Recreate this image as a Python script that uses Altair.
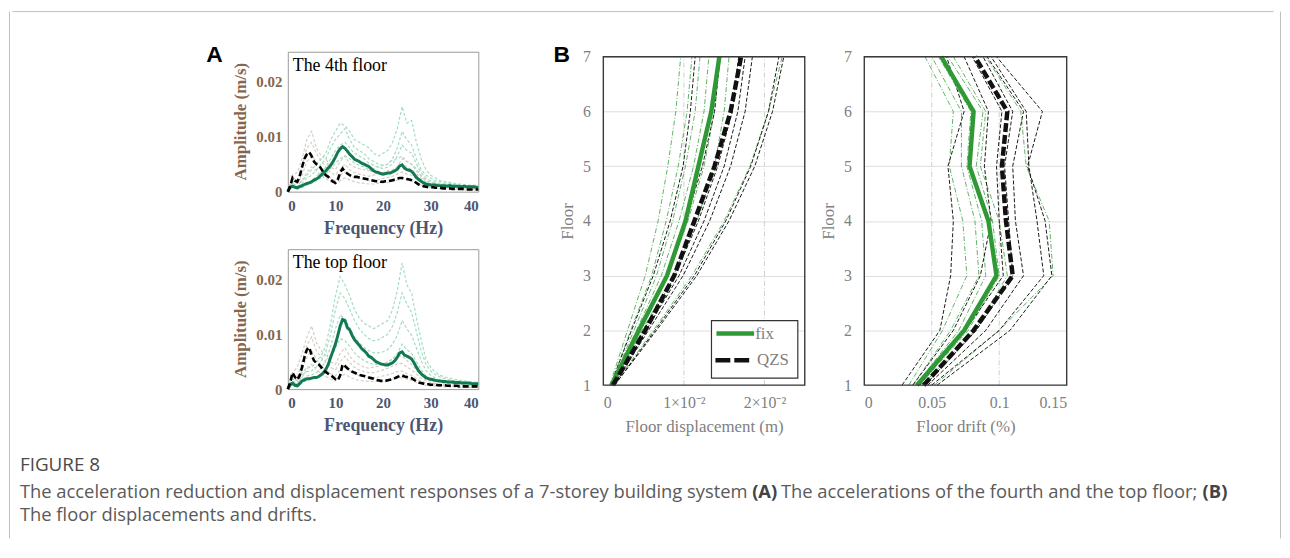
import altair as alt
import pandas as pd

# ============================ DATA ============================
# ---- Panel A: acceleration amplitude spectra ----
A_X_TICKS = [0, 10, 20, 30, 40]
A_Y_TICKS = [0, 0.01, 0.02]
MEAN_STEP = 0.5   # Hz between samples of the mean spectra
REC_STEP = 1.0    # Hz between samples of the single-record spectra

a4_fix_mean = [0.0000, 0.0008, 0.0010, 0.0008, 0.0007, 0.0009, 0.0011, 0.0013, 0.0015, 0.0016,
               0.0018, 0.0021, 0.0023, 0.0026, 0.0030, 0.0034, 0.0038, 0.0043, 0.0048, 0.0055,
               0.0063, 0.0072, 0.0078, 0.0082, 0.0079, 0.0074, 0.0068, 0.0064, 0.0059, 0.0057,
               0.0055, 0.0052, 0.0050, 0.0048, 0.0046, 0.0042, 0.0038, 0.0036, 0.0035, 0.0033,
               0.0032, 0.0033, 0.0034, 0.0034, 0.0036, 0.0038, 0.0041, 0.0047, 0.0049, 0.0043,
               0.0040, 0.0039, 0.0037, 0.0032, 0.0026, 0.0022, 0.0019, 0.0016, 0.0014, 0.0013,
               0.0012, 0.0012, 0.0012, 0.0011, 0.0011, 0.0011, 0.0011, 0.0010, 0.0011, 0.0010,
               0.0010, 0.0010, 0.0010, 0.0009, 0.0010, 0.0009, 0.0009, 0.0009, 0.0009, 0.0008,
               0.0008]
a4_qzs_mean = [0.0000, 0.0010, 0.0025, 0.0020, 0.0018, 0.0028, 0.0045, 0.0060, 0.0068, 0.0072,
               0.0065, 0.0055, 0.0050, 0.0048, 0.0042, 0.0035, 0.0030, 0.0027, 0.0022, 0.0018,
               0.0016, 0.0022, 0.0035, 0.0042, 0.0036, 0.0033, 0.0030, 0.0028, 0.0027, 0.0027,
               0.0026, 0.0025, 0.0024, 0.0023, 0.0022, 0.0021, 0.0020, 0.0019, 0.0019, 0.0018,
               0.0018, 0.0019, 0.0019, 0.0020, 0.0021, 0.0022, 0.0024, 0.0025, 0.0025, 0.0024,
               0.0023, 0.0022, 0.0021, 0.0019, 0.0016, 0.0013, 0.0011, 0.0010, 0.0009, 0.0008,
               0.0008, 0.0008, 0.0007, 0.0007, 0.0007, 0.0006, 0.0006, 0.0006, 0.0006, 0.0005,
               0.0005, 0.0005, 0.0005, 0.0005, 0.0005, 0.0004, 0.0004, 0.0004, 0.0004, 0.0004,
               0.0004]
a4_fix_records = [
    [0, .002, .0015, .002, .003, .004, .005, .006, .007, .0095,
     .011, .0125, .012, .011, .0095, .009, .0085, .008, .007, .0065,
     .007, .0075, .009, .0115, .0155, .0125, .013, .009, .006, .004,
     .003, .0025, .002, .0018, .0017, .0015, .0014, .0013, .0012, .0012, .0011],
    [0, .0015, .001, .0015, .0025, .003, .004, .005, .006, .008,
     .0095, .0105, .0115, .0095, .008, .0075, .007, .006, .0055, .005,
     .0048, .005, .006, .008, .011, .0095, .0085, .006, .004, .003,
     .0025, .002, .0018, .0016, .0015, .0013, .0012, .0011, .001, .001, .001],
    [0, .001, .0008, .001, .0015, .002, .0028, .0035, .0045, .006,
     .0075, .0085, .009, .008, .007, .0065, .006, .0052, .0048, .0045,
     .0042, .0045, .005, .0065, .0085, .0075, .007, .005, .0035, .0025,
     .002, .0017, .0015, .0014, .0013, .0012, .0011, .001, .0009, .0009, .0009],
    [0, .0008, .0006, .0008, .0012, .0015, .002, .0025, .0032, .0042,
     .0052, .006, .0065, .006, .0052, .0048, .0045, .004, .0035, .0032,
     .003, .0032, .0036, .0045, .006, .0055, .005, .0038, .0028, .002,
     .0016, .0014, .0012, .0011, .001, .001, .0009, .0009, .0008, .0008, .0008],
]
a4_qzs_records = [
    [0, .003, .0035, .006, .0095, .011, .008, .0065, .006, .0045,
     .004, .0055, .0065, .005, .0045, .0042, .004, .0038, .0042, .0045,
     .0048, .005, .0058, .006, .0065, .0055, .005, .0042, .003, .0022,
     .0018, .0015, .0013, .0012, .0011, .001, .0009, .0008, .0008, .0007, .0007],
    [0, .0025, .002, .0045, .008, .009, .007, .0055, .0045, .0035,
     .003, .004, .005, .004, .0035, .0032, .003, .0028, .003, .0032,
     .0035, .0038, .004, .0045, .005, .0045, .004, .0033, .0024, .0018,
     .0014, .0012, .001, .0009, .0008, .0008, .0007, .0006, .0006, .0005, .0005],
    [0, .0018, .0015, .003, .0055, .0065, .0055, .004, .0032, .0025,
     .002, .003, .0036, .003, .0026, .0024, .0022, .002, .0021, .0022,
     .0024, .0026, .0028, .0032, .0036, .0032, .003, .0024, .0018, .0013,
     .001, .0009, .0008, .0007, .0006, .0006, .0005, .0005, .0004, .0004, .0004],
    [0, .001, .001, .002, .0035, .0045, .0038, .003, .0024, .0018,
     .0014, .002, .0025, .0021, .0018, .0016, .0015, .0014, .0014, .0015,
     .0016, .0017, .0019, .0021, .0024, .0022, .002, .0016, .0012, .0009,
     .0007, .0006, .0005, .0005, .0004, .0004, .0004, .0003, .0003, .0003, .0003],
]

top_fix_mean = [0.0000, 0.0008, 0.0011, 0.0007, 0.0006, 0.0010, 0.0015, 0.0017, 0.0019, 0.0019,
                0.0020, 0.0021, 0.0021, 0.0023, 0.0026, 0.0030, 0.0036, 0.0045, 0.0058, 0.0070,
                0.0082, 0.0098, 0.0115, 0.0127, 0.0125, 0.0112, 0.0108, 0.0098, 0.0090, 0.0085,
                0.0080, 0.0074, 0.0070, 0.0066, 0.0060, 0.0058, 0.0054, 0.0050, 0.0048, 0.0046,
                0.0045, 0.0044, 0.0044, 0.0046, 0.0048, 0.0052, 0.0058, 0.0066, 0.0068, 0.0062,
                0.0060, 0.0058, 0.0055, 0.0048, 0.0040, 0.0033, 0.0028, 0.0024, 0.0021, 0.0019,
                0.0018, 0.0017, 0.0016, 0.0015, 0.0015, 0.0014, 0.0014, 0.0013, 0.0013, 0.0013,
                0.0012, 0.0012, 0.0012, 0.0011, 0.0011, 0.0011, 0.0011, 0.0010, 0.0010, 0.0010,
                0.0010]
top_qzs_mean = [0.0000, 0.0012, 0.0030, 0.0022, 0.0017, 0.0025, 0.0040, 0.0058, 0.0072, 0.0076,
                0.0062, 0.0052, 0.0048, 0.0045, 0.0040, 0.0034, 0.0031, 0.0028, 0.0025, 0.0022,
                0.0018, 0.0016, 0.0025, 0.0045, 0.0042, 0.0038, 0.0035, 0.0032, 0.0030, 0.0028,
                0.0026, 0.0025, 0.0024, 0.0022, 0.0021, 0.0020, 0.0019, 0.0017, 0.0016, 0.0015,
                0.0015, 0.0015, 0.0016, 0.0017, 0.0018, 0.0020, 0.0022, 0.0024, 0.0025, 0.0023,
                0.0022, 0.0021, 0.0020, 0.0017, 0.0014, 0.0012, 0.0011, 0.0010, 0.0009, 0.0009,
                0.0008, 0.0008, 0.0008, 0.0007, 0.0007, 0.0007, 0.0007, 0.0006, 0.0006, 0.0006,
                0.0006, 0.0006, 0.0005, 0.0005, 0.0005, 0.0005, 0.0005, 0.0005, 0.0005, 0.0005,
                0.0005]
top_fix_records = [
    [0, .002, .0015, .003, .004, .004, .005, .006, .008, .012,
     .017, .0205, .019, .017, .0145, .013, .012, .0115, .011, .0115,
     .012, .0125, .0145, .018, .023, .019, .0175, .013, .009, .0055,
     .004, .003, .0025, .0022, .002, .0018, .0016, .0015, .0014, .0013, .0012],
    [0, .0015, .001, .0025, .0032, .0033, .004, .005, .0068, .01,
     .0145, .0175, .0165, .0145, .0125, .011, .01, .0092, .0088, .009,
     .0095, .01, .0115, .014, .0175, .0155, .014, .0105, .007, .0045,
     .0033, .0026, .0022, .0019, .0017, .0015, .0014, .0013, .0012, .0011, .001],
    [0, .001, .0008, .0018, .0024, .0026, .003, .0038, .0052, .0078,
     .011, .0135, .0128, .0112, .0095, .0085, .0076, .007, .0066, .0066,
     .0068, .0072, .0082, .0098, .0125, .011, .0098, .0075, .0052, .0034,
     .0025, .002, .0017, .0015, .0014, .0012, .0011, .001, .001, .0009, .0009],
    [0, .0008, .0005, .0012, .0016, .0018, .0021, .0027, .0036, .0055,
     .0075, .0092, .0088, .0078, .0066, .0058, .0052, .0048, .0045, .0045,
     .0046, .0048, .0055, .0065, .0082, .0072, .0065, .005, .0035, .0024,
     .0018, .0015, .0013, .0012, .0011, .001, .0009, .0008, .0008, .0007, .0007],
]
top_qzs_records = [
    [0, .003, .004, .0065, .0095, .0115, .0085, .007, .006, .005,
     .0045, .0065, .0075, .006, .005, .0045, .004, .0038, .004, .0042,
     .0045, .005, .0055, .006, .006, .0052, .0045, .0035, .0025, .0018,
     .0015, .0013, .0012, .001, .001, .0009, .0008, .0008, .0007, .0007, .0006],
    [0, .0025, .0022, .005, .008, .0095, .007, .0058, .0048, .004,
     .0035, .005, .006, .0048, .004, .0035, .0032, .003, .003, .0032,
     .0035, .0038, .0042, .0046, .0047, .004, .0035, .0027, .002, .0015,
     .0012, .001, .0009, .0008, .0008, .0007, .0006, .0006, .0006, .0005, .0005],
    [0, .0018, .0015, .0035, .0058, .007, .0055, .0042, .0035, .0028,
     .0024, .0035, .0042, .0034, .0028, .0025, .0023, .0021, .0021, .0022,
     .0024, .0026, .0029, .0032, .0033, .0028, .0025, .0019, .0014, .0011,
     .0009, .0008, .0007, .0006, .0006, .0005, .0005, .0004, .0004, .0004, .0004],
    [0, .001, .001, .0022, .0036, .0045, .0036, .0028, .0023, .0018,
     .0015, .0022, .0027, .0022, .0018, .0016, .0015, .0014, .0014, .0014,
     .0015, .0016, .0018, .002, .0021, .0018, .0016, .0012, .0009, .0007,
     .0006, .0005, .0005, .0004, .0004, .0004, .0003, .0003, .0003, .0003, .0003],
]

# ---- Panel B: floor displacement and drift ----
FLOORS = [1, 2, 3, 4, 5, 6, 7]
DISP_TICKS = [0, 0.01, 0.02]
DISP_LABELS = ["0", "1×10⁻²", "2×10⁻²"]
DRIFT_TICKS = [0, 0.05, 0.1, 0.15]
DRIFT_LABELS = ["0", "0.05", "0.1", "0.15"]

disp_fix_mean = [0.0010, 0.0044, 0.0079, 0.0102, 0.0118, 0.0134, 0.0144]
disp_qzs_mean = [0.0012, 0.0052, 0.0088, 0.0113, 0.0138, 0.0158, 0.0171]
disp_fix_records = [
    [0.0008, 0.0030, 0.0052, 0.0068, 0.0080, 0.0090, 0.0096],
    [0.0009, 0.0034, 0.0060, 0.0078, 0.0093, 0.0104, 0.0110],
    [0.0010, 0.0038, 0.0066, 0.0086, 0.0102, 0.0114, 0.0120],
    [0.0010, 0.0041, 0.0072, 0.0094, 0.0112, 0.0125, 0.0131],
    [0.0011, 0.0045, 0.0080, 0.0105, 0.0125, 0.0138, 0.0145],
    [0.0011, 0.0048, 0.0087, 0.0116, 0.0138, 0.0150, 0.0156],
    [0.0013, 0.0062, 0.0110, 0.0150, 0.0182, 0.0205, 0.0222],
]
disp_qzs_records = [
    [0.0009, 0.0035, 0.0062, 0.0083, 0.0099, 0.0108, 0.0114],
    [0.0011, 0.0044, 0.0078, 0.0102, 0.0123, 0.0138, 0.0145],
    [0.0012, 0.0050, 0.0089, 0.0118, 0.0142, 0.0160, 0.0168],
    [0.0013, 0.0053, 0.0094, 0.0125, 0.0150, 0.0167, 0.0176],
    [0.0013, 0.0056, 0.0099, 0.0132, 0.0158, 0.0176, 0.0185],
    [0.0014, 0.0064, 0.0113, 0.0152, 0.0183, 0.0205, 0.0218],
    [0.0014, 0.0066, 0.0116, 0.0156, 0.0188, 0.0210, 0.0224],
]

drift_fix_mean = [0.039, 0.074, 0.098, 0.092, 0.078, 0.081, 0.057]
drift_qzs_mean = [0.044, 0.081, 0.110, 0.105, 0.102, 0.106, 0.082]
drift_fix_records = [
    [0.033, 0.058, 0.076, 0.073, 0.063, 0.066, 0.045],
    [0.036, 0.064, 0.085, 0.082, 0.072, 0.072, 0.050],
    [0.038, 0.070, 0.090, 0.087, 0.076, 0.079, 0.055],
    [0.041, 0.077, 0.100, 0.095, 0.083, 0.088, 0.062],
    [0.043, 0.082, 0.106, 0.100, 0.086, 0.090, 0.066],
    [0.052, 0.100, 0.140, 0.137, 0.120, 0.116, 0.090],
]
drift_qzs_records = [
    [0.028, 0.056, 0.064, 0.066, 0.062, 0.074, 0.061],
    [0.036, 0.066, 0.086, 0.094, 0.089, 0.092, 0.074],
    [0.041, 0.075, 0.103, 0.100, 0.098, 0.102, 0.080],
    [0.045, 0.083, 0.110, 0.107, 0.104, 0.110, 0.088],
    [0.047, 0.090, 0.118, 0.112, 0.110, 0.118, 0.091],
    [0.050, 0.100, 0.133, 0.128, 0.122, 0.120, 0.094],
    [0.054, 0.108, 0.139, 0.134, 0.121, 0.132, 0.098],
]

SERIES = ["fix", "QZS"]

CAPTION_HEAD = "FIGURE 8"
CAPTION_LINE1 = ["The acceleration reduction and displacement responses of a 7-storey building system",
                 "(A)", "The accelerations of the fourth and the top floor;", "(B)"]
CAPTION_LINE2 = "The floor displacements and drifts."

# ============================ STYLE ============================
SERIF = "Liberation Serif"
SANS = "Open Sans"
A_DKGREEN = "#127a50"
A_LTGREEN = "#a6dcc3"
A_GRAY = "#d6cec8"
B_GREEN = "#2f9a35"
A_YCOL = "#86654c"
A_XCOL = "#4b5673"
B_TEXT = "#808080"
FRAME = "#c0c0c0"

# every unit's origin is the top-left corner of its plot area
A_LEFT = 278          # from the outer frame line to the left edge of the panel A plots


def one(text):
    return pd.DataFrame({"t": [text]})


def box(left, top, w, h, right, bottom):
    """Invisible rectangle that fixes the layout bounds of a unit."""
    return alt.Chart(one("")).mark_rect(opacity=0).encode(
        x=alt.value(-left), x2=alt.value(w + right), y=alt.value(-top), y2=alt.value(h + bottom))


def letter(text, x, y):
    return alt.Chart(one(text)).mark_text(align="center", baseline="middle",
                                          font="Liberation Sans", fontWeight="bold",
                                          fontSize=23, color="black") \
        .encode(x=alt.value(x), y=alt.value(y), text="t:N")


def spectra_df(records, step):
    rows = []
    for r, vals in enumerate(records):
        for i, v in enumerate(vals):
            rows.append({"f": i * step, "amp": v, "rec": r})
    return pd.DataFrame(rows)


def panel_a(fix_mean, qzs_mean, fix_recs, qzs_recs, label, bounds, extra=()):
    W, H = 192, 141
    x = alt.X("f:Q", scale=alt.Scale(domain=[0, 40], nice=False),
              axis=alt.Axis(values=A_X_TICKS, title="Frequency (Hz)", domain=False, ticks=False,
                            tickSize=0, grid=False, labelFont=SERIF, labelFontSize=15,
                            labelFontWeight="bold", labelColor=A_XCOL, labelPadding=7,
                            titleFont=SERIF, titleFontSize=18, titleFontWeight="bold",
                            titleColor=A_XCOL, titleY=37, titleBaseline="middle"))
    y = alt.Y("amp:Q", scale=alt.Scale(domain=[0, 0.0255], nice=False),
              axis=alt.Axis(values=A_Y_TICKS, format="~g", title="Amplitude (m/s)", domain=False,
                            ticks=False, tickSize=0, grid=False, labelFont=SERIF, labelFontSize=15,
                            labelFontWeight="bold", labelColor=A_YCOL, labelPadding=6,
                            titleFont=SERIF, titleFontSize=17, titleFontWeight="bold",
                            titleColor=A_YCOL, titleX=-48, titleY=70, titleBaseline="middle",
                            titleAlign="center"))
    layers = [
        box(bounds[0], bounds[1], W, H, bounds[2], bounds[3]),
        alt.Chart(spectra_df(qzs_recs, REC_STEP)).mark_line(color=A_GRAY, strokeWidth=1.2,
                                                            strokeDash=[3, 2])
        .encode(x=x, y=y, detail="rec:N"),
        alt.Chart(spectra_df(fix_recs, REC_STEP)).mark_line(color=A_LTGREEN, strokeWidth=1.2,
                                                            strokeDash=[3, 2])
        .encode(x=x, y=y, detail="rec:N"),
        alt.Chart(spectra_df([fix_mean], MEAN_STEP)).mark_line(color=A_DKGREEN, strokeWidth=3)
        .encode(x=x, y=y),
        alt.Chart(spectra_df([qzs_mean], MEAN_STEP)).mark_line(color="black", strokeWidth=2.6,
                                                               strokeDash=[6, 3])
        .encode(x=x, y=y),
        alt.Chart(one(label)).mark_text(align="left", baseline="middle", font=SERIF,
                                        fontSize=18, color="black")
        .encode(x=alt.value(5), y=alt.value(14), text="t:N"),
    ] + list(extra)
    return alt.layer(*layers).properties(width=W, height=H,
                                         view=alt.ViewBackground(stroke="#9a9a9a", strokeWidth=1))


def floors_df(records):
    rows = []
    for r, vals in enumerate(records):
        for fl, v in zip(FLOORS, vals):
            rows.append({"v": v, "floor": fl, "rec": r})
    return pd.DataFrame(rows)


def label_expr(values, labels):
    expr = "''"
    for v, l in reversed(list(zip(values, labels))):
        expr = f"abs(datum.value - {v}) < 1e-9 ? '{l}' : ({expr})"
    return expr


B_TOP = 5      # panel B plot frame starts a little below panel A's top
B_H = 336      # unit height of panel B; the frame spans B_TOP..B_H


def panel_b(fix_mean, qzs_mean, fix_recs, qzs_recs, domain, ticks, labels, title, W, bounds,
            legend=False, extra=()):
    H = B_H
    x = alt.X("v:Q", scale=alt.Scale(domain=domain, nice=False),
              axis=alt.Axis(values=ticks, labelExpr=label_expr(ticks, labels), title=title,
                            domain=False, ticks=False, tickSize=0, grid=False, labelFont=SERIF,
                            labelFontSize=16, labelColor=B_TEXT, labelPadding=10,
                            titleFont=SERIF, titleFontSize=17, titleFontWeight="normal",
                            titleColor=B_TEXT, titleY=42, titleBaseline="middle"))
    y = alt.Y("floor:Q", scale=alt.Scale(domain=[1, 7], range=[H, B_TOP], nice=False),
              axis=alt.Axis(values=FLOORS, title="Floor", domain=False, ticks=False, tickSize=0,
                            grid=True, gridColor="#dedede", gridWidth=1, labelFont=SERIF,
                            labelFontSize=16, labelColor=B_TEXT, labelPadding=13,
                            titleFont=SERIF, titleFontSize=17, titleFontWeight="normal",
                            titleColor=B_TEXT, titleX=-36, titleY=(H + B_TOP) / 2,
                            titleBaseline="middle", titleAlign="center"))
    grid_vals = [t for t in ticks if domain[0] < t < domain[1]]
    vgrid = pd.DataFrame({"v": grid_vals, "floor": [1] * len(grid_vals),
                          "floor2": [7] * len(grid_vals)})
    frame = pd.DataFrame({"v": [domain[0]], "v2": [domain[1]], "floor": [1], "floor2": [7]})
    layers = [
        box(bounds[0], bounds[1], W, H, bounds[2], bounds[3]),
        alt.Chart(vgrid).mark_rule(color="#c4c4c4", strokeWidth=0.8, strokeDash=[5, 2, 1, 2])
        .encode(x=x, y=y, y2="floor2:Q"),
        alt.Chart(floors_df(fix_recs)).mark_line(color=B_GREEN, strokeWidth=0.9,
                                                 strokeDash=[5, 2, 1, 2], opacity=0.85)
        .encode(x=x, y=y, detail="rec:N", order="floor:Q"),
        alt.Chart(floors_df(qzs_recs)).mark_line(color="#1a1a1a", strokeWidth=1,
                                                 strokeDash=[4, 2])
        .encode(x=x, y=y, detail="rec:N", order="floor:Q"),
        alt.Chart(floors_df([fix_mean])).mark_line(color=B_GREEN, strokeWidth=4.5)
        .encode(x=x, y=y, order="floor:Q"),
        alt.Chart(floors_df([qzs_mean])).mark_line(color="#111111", strokeWidth=4.5,
                                                   strokeDash=[9, 3])
        .encode(x=x, y=y, order="floor:Q"),
        alt.Chart(frame).mark_rect(fillOpacity=0, stroke="#3a3a3a", strokeWidth=1.4)
        .encode(x=x, x2="v2:Q", y=y, y2="floor2:Q"),
    ]
    if legend:
        t = B_TOP
        layers += [
            alt.Chart(one("")).mark_rect(fill="white", stroke="#333333", strokeWidth=1.2)
            .encode(x=alt.value(109), x2=alt.value(196), y=alt.value(266 + t),
                    y2=alt.value(324 + t)),
            alt.Chart(one(SERIES[0])).mark_rule(color=B_GREEN, strokeWidth=4.5)
            .encode(x=alt.value(114), x2=alt.value(152), y=alt.value(279 + t)),
            alt.Chart(one(SERIES[1])).mark_rule(color="#111111", strokeWidth=4.5,
                                                strokeDash=[15, 4])
            .encode(x=alt.value(113), x2=alt.value(147), y=alt.value(306 + t)),
            alt.Chart(one(SERIES[0])).mark_text(align="left", baseline="middle", font=SERIF,
                                                fontSize=17, color=B_TEXT)
            .encode(x=alt.value(153), y=alt.value(279 + t), text="t:N"),
            alt.Chart(one(SERIES[1])).mark_text(align="left", baseline="middle", font=SERIF,
                                                fontSize=17, color=B_TEXT)
            .encode(x=alt.value(155), y=alt.value(306 + t), text="t:N"),
        ]
    layers += list(extra)
    return alt.layer(*layers).properties(width=W, height=H)


# ============================ LAYOUT ============================
# bounds = (left, top, right, bottom) margins around each unit
TOTAL_W = 1274        # whole chart width (fits the page body, so nothing is rescaled)
ROW_H = 393           # from the top of panel A to the caption
a4 = panel_a(a4_fix_mean, a4_qzs_mean, a4_fix_records, a4_qzs_records, "The 4th floor",
             (A_LEFT, 38, 61, 49), extra=[letter("A", -74, 3)])
atop = panel_a(top_fix_mean, top_qzs_mean, top_fix_records, top_qzs_records, "The top floor",
               (A_LEFT, 7, 61, ROW_H - 141 - 49 - 7 - 141))
col_a = alt.vconcat(a4, atop, spacing=0)

DRIFT_RIGHT = TOTAL_W - 1061
b_disp = panel_b(disp_fix_mean, disp_qzs_mean, disp_fix_records, disp_qzs_records,
                 [0, 0.025], DISP_TICKS, DISP_LABELS, "Floor displacement (m)", 203,
                 (63, 38, 6, ROW_H - B_H), legend=True, extra=[letter("B", -42, 3)])
b_drift = panel_b(drift_fix_mean, drift_qzs_mean, drift_fix_records, drift_qzs_records,
                  [0, 0.15], DRIFT_TICKS, DRIFT_LABELS, "Floor drift (%)", 204,
                  (52, 38, DRIFT_RIGHT, ROW_H - B_H))
row = alt.hconcat(col_a, b_disp, b_drift, spacing=0)

CAP_W = 577 + 204 + DRIFT_RIGHT   # from the plot origin of panel A to the right frame line
CAP_SIZE = 18.5


def cap_text(text, x, y, size=CAP_SIZE, weight="normal", color="#5a5a5a"):
    return alt.Chart(one(text)).mark_text(align="left", baseline="middle", font=SANS,
                                          fontSize=size, fontWeight=weight, color=color) \
        .encode(x=alt.value(x - A_LEFT - 9), y=alt.value(y), text="t:N")


caption = alt.layer(
    box(A_LEFT, 0, CAP_W, 92, 0, 0),
    cap_text(CAPTION_HEAD, 17, 20, size=19, color="#4a4a4a"),
    cap_text(CAPTION_LINE1[0], 17, 47),
    cap_text(CAPTION_LINE1[1], 755, 47, weight="bold", color="#444444"),
    cap_text(CAPTION_LINE1[2], 784, 47),
    cap_text(CAPTION_LINE1[3], 1209, 47, weight="bold", color="#444444"),
    cap_text(CAPTION_LINE2, 17, 70),
).properties(width=CAP_W, height=92)

hline = alt.layer(
    box(A_LEFT, 0, CAP_W, 1, 0, 0),
    alt.Chart(one("")).mark_rule(color=FRAME, strokeWidth=1)
    .encode(x=alt.value(-A_LEFT + 0.5), x2=alt.value(CAP_W - 0.5), y=alt.value(0.5)),
).properties(width=CAP_W, height=1)

body = alt.vconcat(hline, row, caption, spacing=0)


def vline():
    return alt.layer(
        box(0, 0, 1, 532, 0, 0),
        alt.Chart(one("")).mark_rule(color=FRAME, strokeWidth=1)
        .encode(x=alt.value(0.5), y=alt.value(0.5), y2=alt.value(531.5)),
    ).properties(width=1, height=532)


chart = alt.hconcat(vline(), body, vline(), spacing=0) \
    .properties(padding=0, background="white") \
    .configure_view(stroke="transparent")

chart.save("out.html", embed_options={"renderer": "svg", "actions": False})
